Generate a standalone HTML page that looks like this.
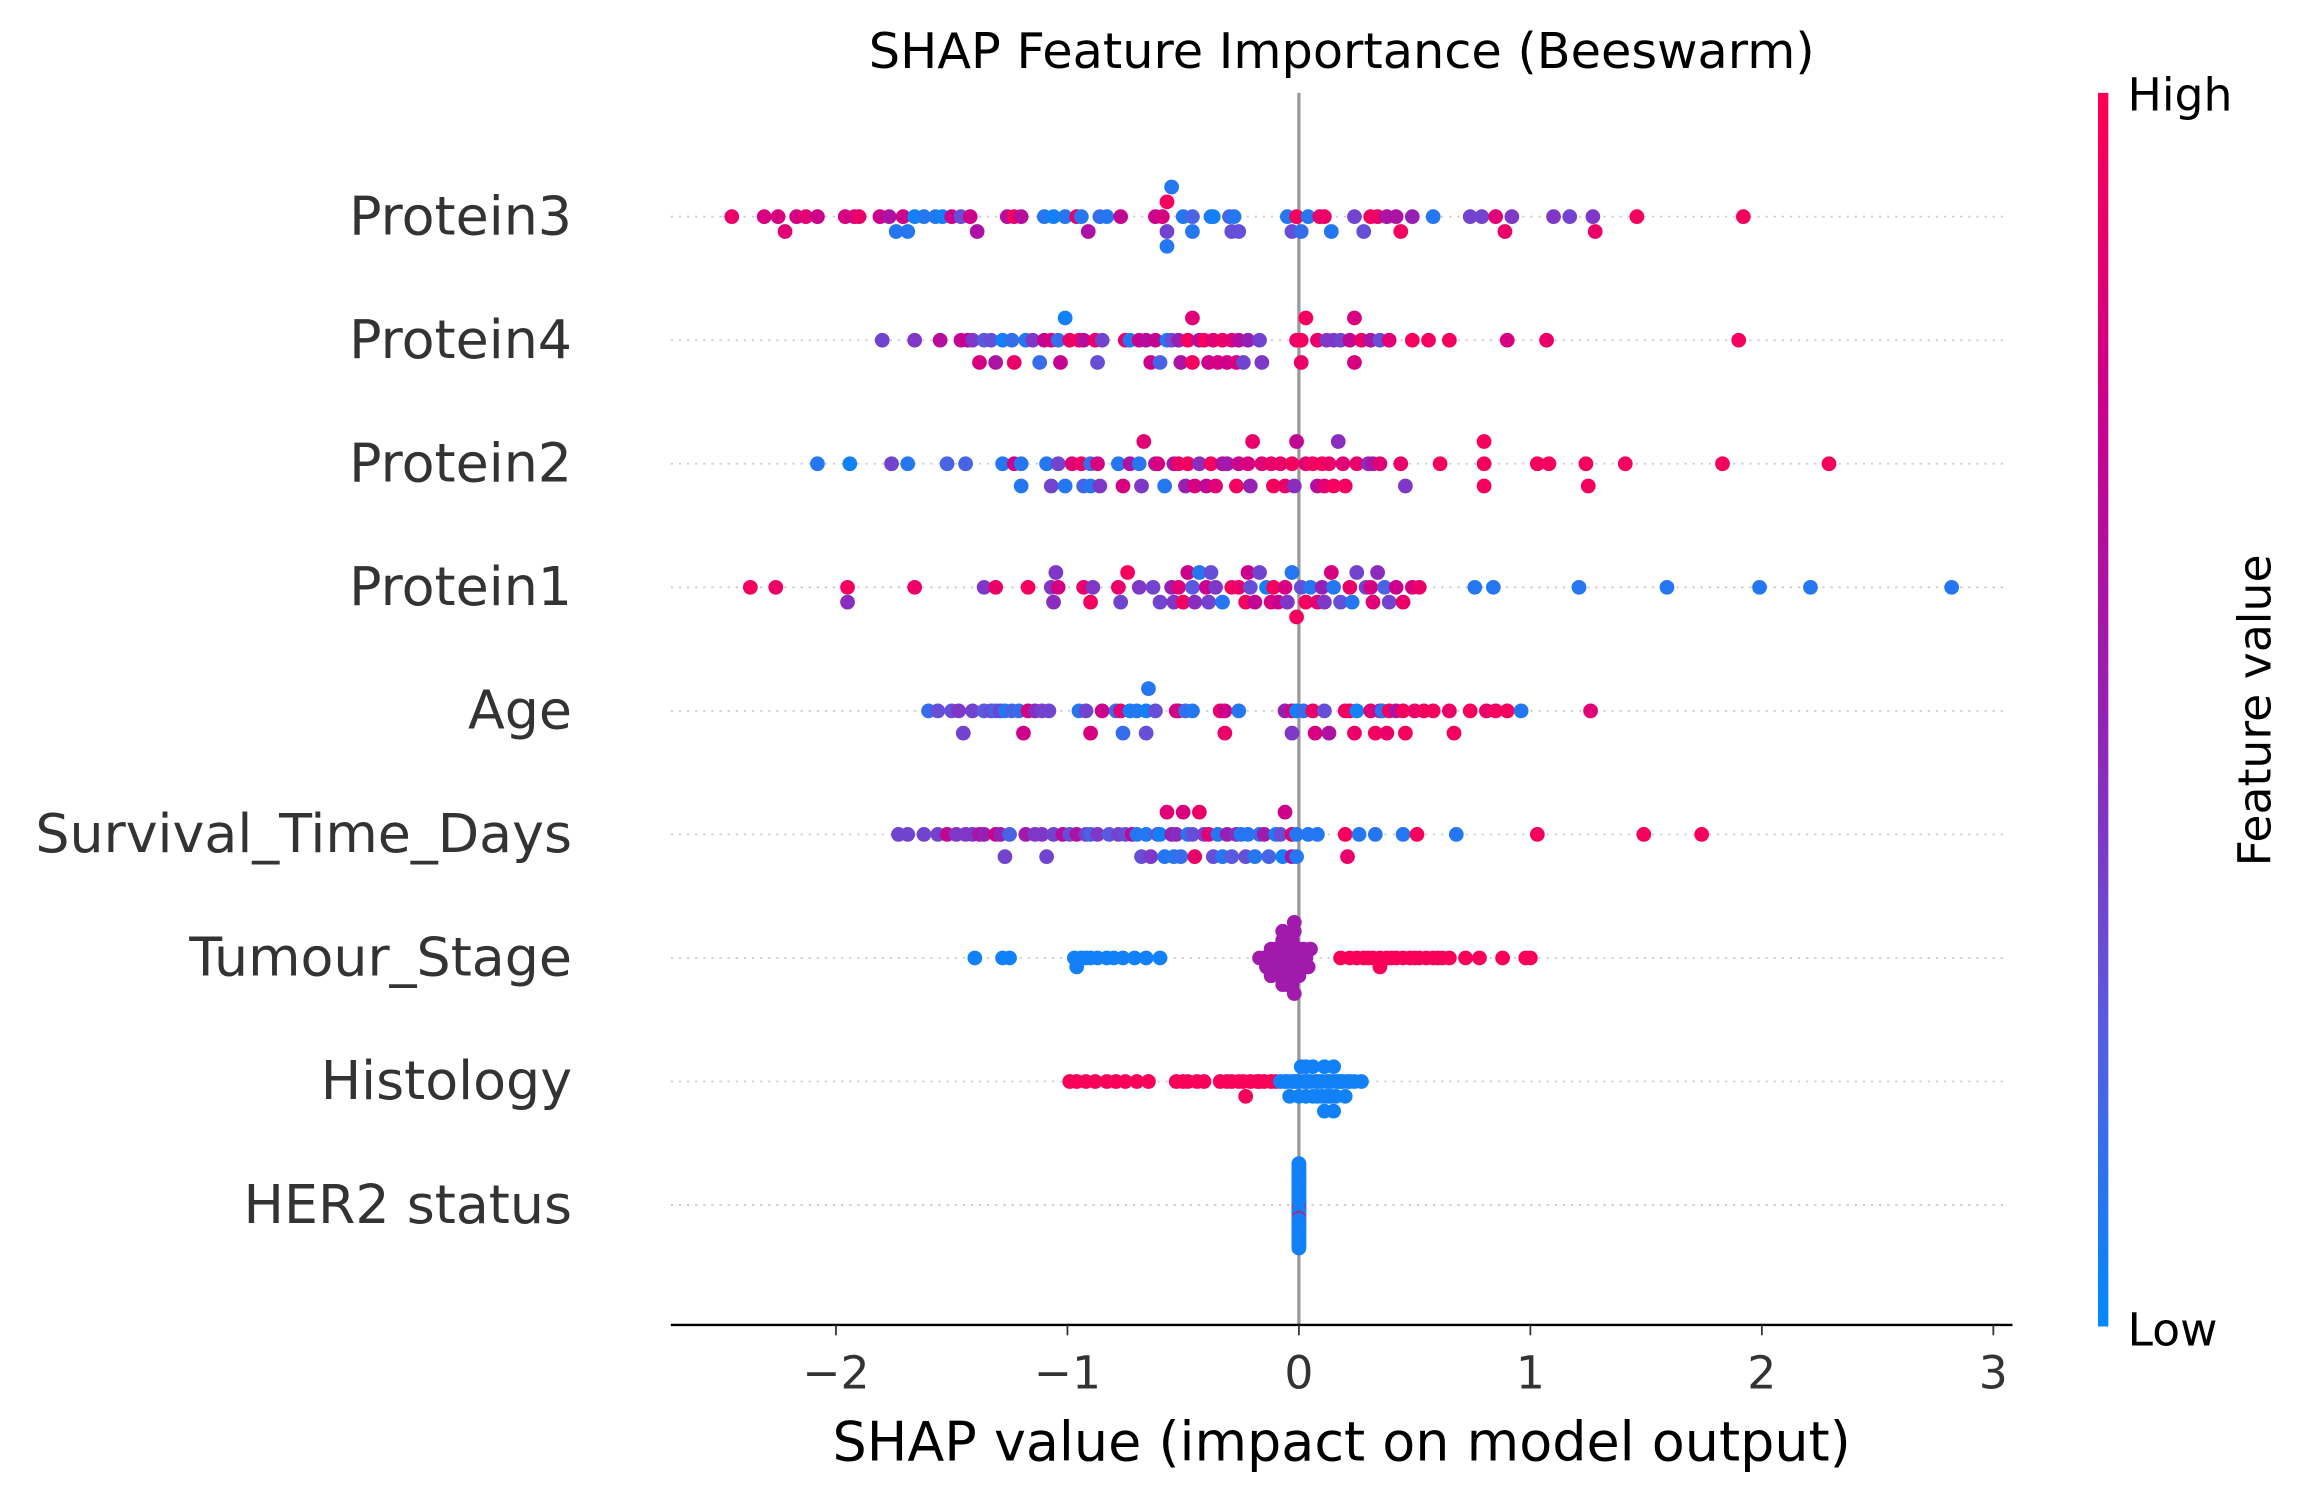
<!DOCTYPE html>
<html><head><meta charset="utf-8"><style>
html,body{margin:0;padding:0;background:#fff;}
svg{display:block;}
text{font-family:"DejaVu Sans","Liberation Sans",sans-serif;}
</style></head><body>
<svg id="chart" width="2300" height="1493" viewBox="0 0 1560 1013" preserveAspectRatio="none" xmlns="http://www.w3.org/2000/svg">
<defs><linearGradient id="cbar" x1="0" y1="1" x2="0" y2="0">
<stop offset="0" stop-color="rgb(0,138,251)"/><stop offset="0.25" stop-color="rgb(90,90,224)"/><stop offset="0.5" stop-color="rgb(150,32,180)"/><stop offset="0.75" stop-color="rgb(205,0,140)"/><stop offset="1" stop-color="rgb(255,0,82)"/></linearGradient></defs>
<text x="910" y="46" font-size="33.5" text-anchor="middle" fill="#000">SHAP Feature Importance (Beeswarm)</text>
<g id="grid"></g>
<line x1="881" y1="63" x2="881" y2="899" stroke="#999" stroke-width="2.2"/>
<g id="dots"></g>
<g id="axis"></g>
<text x="910" y="991" font-size="36.6" text-anchor="middle" fill="#000">SHAP value (impact on model output)</text>
<rect x="1423" y="63" width="7" height="837" fill="url(#cbar)"/>
<text x="1443" y="75" font-size="31" fill="#000">High</text>
<text x="1443" y="913" font-size="31" fill="#000">Low</text>
<text transform="translate(1540,482) rotate(-90)" font-size="31" text-anchor="middle" fill="#000">Feature value</text>
</svg>
<script>
const features = ["Protein3","Protein4","Protein2","Protein1","Age","Survival_Time_Days","Tumour_Stage","Histology","HER2 status"];
const xTicks = [-2,-1,0,1,2,3];
const xTickLabels = ["\u22122","\u22121","0","1","2","3"];
const protein3Shap = [-2.45,-2.31,-2.25,-2.22,-2.17,-2.13,-2.08,-1.96,-1.92,-1.90,-1.81,-1.77,-1.74,-1.71,-1.69,-1.66,-1.62,-1.57,-1.54,-1.50,-1.46,-1.42,-1.39,-1.26,-1.23,-1.20,-1.10,-1.06,-1.01,-0.96,-0.94,-0.91,-0.86,-0.83,-0.77,-0.62,-0.59,-0.57,-0.57,-0.57,-0.55,-0.50,-0.46,-0.46,-0.38,-0.37,-0.30,-0.29,-0.28,-0.26,-0.05,-0.03,-0.01,0.01,0.04,0.09,0.11,0.14,0.24,0.28,0.31,0.34,0.38,0.42,0.44,0.49,0.58,0.74,0.79,0.85,0.89,0.92,1.10,1.17,1.27,1.28,1.46,1.92];
const protein3Feat = [.9,.8,.8,.85,.8,.85,.75,.8,.8,.9,.75,.6,.1,.75,.1,.05,.1,.1,.05,.75,.3,.75,.6,.65,.95,.65,.1,.05,.1,.9,.1,.6,.15,.1,.7,.75,.8,.35,.95,.1,.1,.1,.2,.1,.1,.05,.2,.3,.1,.3,.1,.3,.95,.15,.1,.9,.9,.1,.35,.3,.95,.9,.6,.6,.95,.5,.1,.35,.35,.85,.9,.4,.4,.35,.4,.9,.95,.95];
const protein4Shap = [-1.80,-1.66,-1.55,-1.46,-1.43,-1.41,-1.38,-1.36,-1.33,-1.31,-1.28,-1.24,-1.23,-1.18,-1.15,-1.12,-1.10,-1.07,-1.04,-1.03,-1.01,-0.99,-0.95,-0.93,-0.88,-0.87,-0.85,-0.75,-0.73,-0.69,-0.66,-0.64,-0.62,-0.60,-0.57,-0.55,-0.52,-0.51,-0.48,-0.46,-0.46,-0.43,-0.41,-0.39,-0.37,-0.35,-0.33,-0.31,-0.29,-0.27,-0.26,-0.24,-0.22,-0.17,-0.16,-0.01,0.01,0.01,0.03,0.08,0.12,0.15,0.18,0.22,0.24,0.24,0.27,0.31,0.35,0.39,0.49,0.56,0.65,0.90,1.07,1.90];
const protein4Feat = [.35,.4,.65,.7,.75,.4,.8,.25,.3,.6,.05,.15,.9,.1,.4,.15,.7,.8,.15,.7,.05,.9,.95,.65,.9,.3,.35,.9,.1,.75,.65,.75,.7,.2,.05,.3,.5,.6,.95,.95,.85,.6,.95,.75,.85,.8,.9,.75,.85,.8,.65,.35,.5,.35,.4,.9,.95,.9,.95,.9,.4,.4,.35,.7,.8,.8,.9,.6,.3,.85,.95,.95,.95,.8,.9,.95];
const protein2Shap = [-2.08,-1.94,-1.76,-1.69,-1.52,-1.44,-1.28,-1.23,-1.20,-1.20,-1.09,-1.07,-1.04,-1.01,-0.98,-0.94,-0.93,-0.90,-0.90,-0.87,-0.86,-0.78,-0.76,-0.73,-0.69,-0.68,-0.67,-0.62,-0.61,-0.58,-0.54,-0.52,-0.49,-0.48,-0.45,-0.43,-0.40,-0.38,-0.36,-0.33,-0.31,-0.27,-0.26,-0.22,-0.21,-0.20,-0.16,-0.12,-0.11,-0.08,-0.06,-0.03,-0.02,-0.01,0.03,0.06,0.08,0.10,0.11,0.13,0.15,0.17,0.19,0.20,0.25,0.30,0.32,0.35,0.44,0.46,0.61,0.80,0.80,0.80,1.03,1.08,1.24,1.25,1.41,1.83,2.29];
const protein2Feat = [.1,.05,.35,.1,.2,.2,.1,.75,.1,.1,.1,.35,.35,.1,.85,.9,.2,.15,.1,.8,.4,.1,.8,.6,.1,.4,.85,.5,.8,.1,.6,.9,.5,.95,.8,.45,.7,.95,.85,.65,.55,.95,.75,.8,.5,.9,.85,.9,.95,.9,.9,.95,.45,.7,.85,.95,.65,.95,.85,.9,.95,.45,.85,.95,.9,.45,.6,.85,.9,.4,.95,.95,.95,.95,.95,.95,.95,.95,.95,.95,.95];
const protein1Shap = [-2.37,-2.26,-1.95,-1.95,-1.66,-1.36,-1.31,-1.17,-1.07,-1.06,-1.05,-1.04,-0.93,-0.90,-0.89,-0.78,-0.77,-0.74,-0.69,-0.63,-0.60,-0.55,-0.54,-0.52,-0.50,-0.48,-0.46,-0.45,-0.43,-0.40,-0.39,-0.38,-0.36,-0.33,-0.29,-0.26,-0.23,-0.22,-0.21,-0.19,-0.17,-0.14,-0.12,-0.11,-0.09,-0.06,-0.05,-0.03,-0.01,0.01,0.03,0.05,0.08,0.10,0.11,0.14,0.15,0.18,0.22,0.23,0.25,0.29,0.31,0.32,0.34,0.37,0.39,0.42,0.45,0.49,0.52,0.76,0.84,1.21,1.59,1.99,2.21,2.82];
const protein1Feat = [.95,.9,.95,.45,.9,.4,.9,.95,.4,.45,.4,.8,.9,.95,.4,.9,.35,.95,.4,.35,.35,.5,.4,.85,.95,.75,.25,.45,.1,.75,.35,.3,.4,.1,.95,.9,.95,.75,.3,.7,.35,.05,.8,.95,.75,.8,.4,.1,.95,.3,.95,.1,.85,.5,.4,.8,.1,.3,.9,.1,.35,.35,.8,.85,.45,.2,.35,.75,.9,.8,.9,.1,.1,.1,.1,.1,.1,.1];
const ageShap = [-1.60,-1.56,-1.50,-1.47,-1.45,-1.41,-1.36,-1.33,-1.31,-1.29,-1.27,-1.24,-1.21,-1.19,-1.17,-1.14,-1.11,-1.08,-0.95,-0.92,-0.90,-0.85,-0.79,-0.77,-0.76,-0.73,-0.70,-0.66,-0.66,-0.65,-0.62,-0.53,-0.52,-0.49,-0.46,-0.34,-0.32,-0.32,-0.26,-0.06,-0.03,-0.03,-0.01,0.02,0.06,0.07,0.11,0.13,0.20,0.22,0.24,0.25,0.31,0.33,0.35,0.36,0.38,0.39,0.42,0.45,0.46,0.50,0.54,0.58,0.65,0.67,0.74,0.81,0.85,0.90,0.96,1.26];
const ageFeat = [.15,.3,.3,.4,.35,.35,.25,.3,.2,.35,.1,.2,.15,.75,.8,.45,.35,.35,.1,.35,.8,.75,.15,.85,.15,.05,.1,.05,.3,.1,.3,.75,.8,.15,.1,.9,.75,.9,.1,.5,.8,.4,.05,.15,.9,.8,.3,.6,.9,.95,.9,.05,.85,.95,.65,.1,.9,.95,.6,.95,.95,.9,.95,.95,.9,.95,.95,.9,.95,.95,.1,.85];
const survivalShap = [-1.73,-1.69,-1.62,-1.56,-1.52,-1.48,-1.44,-1.41,-1.38,-1.36,-1.31,-1.29,-1.27,-1.25,-1.18,-1.14,-1.11,-1.09,-1.06,-1.02,-0.99,-0.96,-0.92,-0.90,-0.87,-0.82,-0.78,-0.75,-0.72,-0.70,-0.68,-0.66,-0.64,-0.61,-0.60,-0.58,-0.57,-0.55,-0.54,-0.53,-0.51,-0.50,-0.48,-0.46,-0.45,-0.43,-0.41,-0.39,-0.37,-0.35,-0.33,-0.31,-0.29,-0.27,-0.25,-0.23,-0.22,-0.19,-0.17,-0.15,-0.13,-0.10,-0.08,-0.07,-0.06,-0.03,-0.03,-0.01,-0.01,0.04,0.08,0.20,0.21,0.26,0.33,0.45,0.51,0.68,1.03,1.49,1.74];
const survivalFeat = [.35,.35,.35,.35,.7,.4,.4,.4,.6,.5,.75,.5,.35,.2,.55,.4,.4,.35,.35,.65,.3,.6,.35,.2,.4,.25,.35,.3,.7,.1,.3,.1,.4,.3,.05,.1,.85,.5,.1,.45,.15,.8,.1,.3,.9,.9,.35,.85,.3,.1,.1,.5,.25,.45,.1,.3,.1,.1,.15,.55,.2,.05,.3,.05,.75,.85,.6,.1,.1,.1,.1,.95,.9,.1,.1,.1,.95,.1,.95,.95,.95];
const tumourShap = [-1.40,-1.28,-1.25,-0.97,-0.96,-0.94,-0.92,-0.90,-0.87,-0.83,-0.80,-0.76,-0.71,-0.66,-0.60,-0.13,-0.17,-0.15,-0.14,-0.13,-0.12,-0.12,-0.11,-0.10,-0.10,-0.09,-0.09,-0.08,-0.08,-0.07,-0.07,-0.07,-0.06,-0.06,-0.06,-0.05,-0.05,-0.05,-0.04,-0.04,-0.04,-0.03,-0.03,-0.03,-0.02,-0.02,-0.02,-0.01,-0.01,0.00,0.00,0.01,0.01,0.02,0.03,0.04,0.05,0.18,0.22,0.25,0.28,0.30,0.32,0.35,0.35,0.38,0.40,0.42,0.45,0.48,0.50,0.52,0.55,0.58,0.60,0.62,0.65,0.72,0.78,0.88,0.98,1.00];
const tumourFeat = [.05,.05,.05,.05,.05,.05,.05,.05,.05,.05,.05,.05,.05,.05,.05,.05,.55,.55,.55,.55,.55,.55,.55,.55,.55,.55,.55,.55,.55,.55,.55,.55,.55,.55,.55,.55,.55,.55,.55,.55,.55,.55,.55,.55,.55,.55,.55,.55,.55,.55,.55,.55,.55,.55,.55,.55,.55,.97,.97,.97,.97,.97,.97,.97,.97,.97,.97,.97,.97,.97,.97,.97,.97,.97,.97,.97,.97,.97,.97,.97,.97,.97];
const histologyShap = [-0.99,-0.96,-0.92,-0.88,-0.83,-0.79,-0.75,-0.70,-0.65,-0.53,-0.50,-0.48,-0.44,-0.41,-0.34,-0.31,-0.29,-0.26,-0.24,-0.23,-0.21,-0.18,-0.17,-0.15,-0.12,-0.10,0.03,-0.08,-0.06,-0.05,-0.04,-0.03,-0.02,-0.01,0.00,0.00,0.01,0.02,0.03,0.03,0.04,0.05,0.06,0.06,0.07,0.08,0.08,0.09,0.10,0.10,0.11,0.11,0.12,0.12,0.13,0.13,0.14,0.14,0.15,0.15,0.16,0.16,0.17,0.18,0.19,0.20,0.21,0.22,0.24,0.27];
const histologyFeat = [.97,.97,.97,.97,.97,.97,.97,.97,.97,.97,.97,.97,.97,.97,.97,.97,.97,.97,.97,.97,.97,.97,.97,.97,.97,.97,.97,.05,.05,.05,.05,.05,.05,.05,.05,.05,.05,.05,.05,.05,.05,.05,.05,.05,.05,.05,.05,.05,.05,.05,.05,.05,.05,.05,.05,.05,.05,.05,.05,.05,.05,.05,.05,.05,.05,.05,.05,.05,.05,.05];
const her2Shap = [0,0,0,0,0,0,0,0,0,0,0,0,0,0,0,0,0,0,0,0,0,0,0,0,0,0,0,0,0,0,0,0,0,0,0,0,0,0,0,0,0,0,0,0,0,0,0,0,0,0,0,0,0,0,0,0,0,0];
const her2Feat = [.05,.97,.97,.05,.05,.97,.05,.05,.05,.05,.05,.05,.05,.05,.05,.05,.05,.97,.05,.05,.05,.05,.05,.05,.05,.05,.05,.05,.05,.05,.05,.05,.05,.05,.05,.05,.05,.05,.05,.05,.05,.05,.05,.05,.05,.05,.05,.05,.05,.05,.05,.05,.05,.05,.05,.05,.05,.05];
const shapSeries = [protein3Shap,protein4Shap,protein2Shap,protein1Shap,ageShap,survivalShap,tumourShap,histologyShap,her2Shap];
const featSeries = [protein3Feat,protein4Feat,protein2Feat,protein1Feat,ageFeat,survivalFeat,tumourFeat,histologyFeat,her2Feat];

const NS="http://www.w3.org/2000/svg";
const X0=881, XU=157, ROW0=147, ROWH=83.83;
function xScale(v){return X0+v*XU;}
function yRow(i){return ROW0+i*ROWH;}
const stops=[[0,[0,138,251]],[0.25,[90,90,224]],[0.5,[150,32,180]],[0.75,[205,0,140]],[1,[255,0,82]]];
function cmap(t){t=Math.max(0,Math.min(1,t));for(let i=1;i<stops.length;i++){if(t<=stops[i][0]){const a=stops[i-1],b=stops[i];const f=(t-a[0])/(b[0]-a[0]);const c=a[1].map((v,k)=>Math.round(v+(b[1][k]-v)*f));return `rgb(${c[0]},${c[1]},${c[2]})`;}}return 'rgb(255,0,82)';}
function mk(tag,attrs,parent){const e=document.createElementNS(NS,tag);for(const k in attrs)e.setAttribute(k,attrs[k]);parent.appendChild(e);return e;}
const grid=document.getElementById('grid'),dots=document.getElementById('dots'),axis=document.getElementById('axis'),svg=document.getElementById('chart');
features.forEach((f,i)=>{
  const y=yRow(i);
  const gl=mk('line',{x1:455,x2:1362,y1:y,y2:y,stroke:'#ccc','stroke-width':1.2,'stroke-dasharray':'1.5 4'},grid);
  
  
  const t=mk('text',{x:388,y:y+12,'font-size':36.5,'text-anchor':'end',fill:'#333'},svg);
  t.textContent=f;
  
  
  const s=shapSeries[i],fv=featSeries[i];
  const n=s.length; const mn=Math.min(...s), mx=Math.max(...s);
  const quant=s.map(v=>Math.round(100*(v-mn)/(mx-mn+1e-8)));
  const inds=s.map((_,k)=>k).sort((a,b)=>quant[a]-quant[b]||a-b);
  const ys=new Array(n).fill(0); let layer=0,last=-1;
  for(const k of inds){if(quant[k]!==last)layer=0;ys[k]=Math.ceil(layer/2)*((layer%2)*2-1);layer++;last=quant[k];}
  const m=Math.max(...ys.map(v=>v+1));
  const sc=0.9*(0.4/m)*ROWH;
  for(let k=0;k<n;k++){
    const c=mk('circle',{cx:xScale(s[k]),cy:y+ys[k]*sc,r:5,fill:cmap(fv[k])},dots);
    
    
  }
});
const al=mk('line',{x1:455,x2:1365,y1:899,y2:899,stroke:'#000','stroke-width':1.6},axis);


xTicks.forEach((v,i)=>{
  const x=xScale(v);
  const tk=mk('line',{x1:x,x2:x,y1:899,y2:906,stroke:'#333','stroke-width':1.2},axis);
  
  
  const tl=mk('text',{x:x,y:942,'font-size':31,'text-anchor':'middle',fill:'#333'},axis);
  tl.textContent=xTickLabels[i];
  
  
});
</script>
</body></html>
